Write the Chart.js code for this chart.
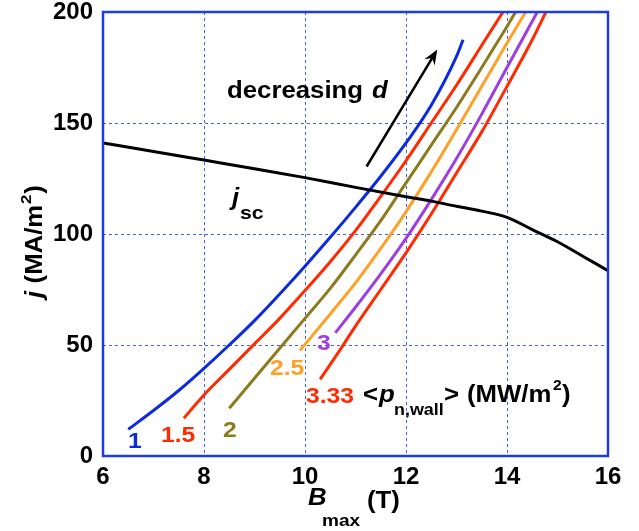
<!DOCTYPE html>
<html>
<head>
<meta charset="UTF-8">
<title>j vs Bmax</title>
<script src="https://cdn.jsdelivr.net/npm/chart.js@4.4.0/dist/chart.umd.min.js"></script>
<style>
  body { margin: 0; background: #fff; }
  #wrap { position: relative; width: 639px; height: 531px; }
</style>
</head>
<body>
<div id="wrap"><canvas id="c"></canvas></div>
<script>
// B_max (T) and j (MA/m2), one pair per wall load <p_n,wall>
var b1 = [6.5, 7, 7.5, 8, 8.5, 9, 9.5, 10, 10.5, 11, 11.5, 12, 12.5, 13, 13.13];
var j1 = [12, 20.5, 29.5, 39.5, 50, 61, 73, 85.5, 98.5, 112, 126, 141, 158, 180, 187.5];

var b15 = [7.6, 8, 8.5, 9, 9.5, 10, 10.5, 11, 11.5, 12, 12.5, 13, 13.5, 13.92];
var j15 = [17, 27.5, 39, 50.5, 62, 74.5, 87.5, 101.5, 117, 133, 150, 167, 185, 200];

var b2 = [8.5, 9, 9.5, 10, 10.5, 11, 11.5, 12, 12.5, 13, 13.5, 14, 14.17];
var j2 = [21.5, 35, 48.5, 62, 75.5, 90.5, 106, 123, 140, 157, 175, 193.5, 200];

var b25 = [9.9, 10.5, 11, 11.5, 12, 12.5, 13, 13.5, 14, 14.37];
var j25 = [47.5, 64, 78, 93.5, 110, 128, 147, 166.5, 186, 200];

var b3 = [10.6, 11, 11.5, 12, 12.5, 13, 13.5, 14, 14.6];
var j3 = [55.5, 67, 82, 98, 115.5, 134, 154, 175, 200];

var b333 = [10.3, 10.7, 11, 11.5, 12, 12.5, 13, 13.5, 14, 14.5, 14.77];
var j333 = [34.5, 48, 58.5, 75, 91.5, 109, 127.5, 146, 166.5, 187.5, 200];

// superconductor critical current density j_sc
var bSc = [6, 7, 8, 9, 10, 11, 12, 12.5, 13, 13.5, 14, 14.5, 15, 15.5, 16];
var jSc = [141, 137.2, 133.3, 129.4, 125.4, 121, 116.8, 114.8, 112.5, 110.3, 107.5, 102, 96.5, 90, 83.5];

// "decreasing d" arrow, tail -> head
var arrowB = [11.22, 12.62];
var arrowJ = [130.4, 183.1];

var FONT = "'Liberation Sans', Arial, Helvetica, sans-serif";
var SX = 1.12; // the figure's lettering is a little wide

function pts(bs, js) {
  return bs.map(function (b, i) { return { x: b, y: js[i] }; });
}

function put(ctx, s, x, y, font, color) {
  ctx.save();
  ctx.font = font;
  ctx.fillStyle = color || '#000';
  ctx.translate(x, y);
  ctx.scale(SX, 1);
  ctx.fillText(s, 0, 0);
  ctx.restore();
}

var decor = {
  id: 'decor',
  afterDraw: function (chart) {
    var ctx = chart.ctx, a = chart.chartArea;
    var xs = chart.scales.x, ys = chart.scales.y;

    // frame
    ctx.save();
    ctx.strokeStyle = '#1c3ce6';
    ctx.lineWidth = 2.5;
    ctx.strokeRect(a.left, a.top, a.right - a.left, a.bottom - a.top);

    // arrow
    var x0 = xs.getPixelForValue(arrowB[0]), y0 = ys.getPixelForValue(arrowJ[0]);
    var x1 = xs.getPixelForValue(arrowB[1]), y1 = ys.getPixelForValue(arrowJ[1]);
    var ang = Math.atan2(y1 - y0, x1 - x0);
    var c = Math.cos(ang), s = Math.sin(ang);
    ctx.strokeStyle = '#000';
    ctx.fillStyle = '#000';
    ctx.lineWidth = 2.5;
    ctx.beginPath();
    ctx.moveTo(x0, y0);
    ctx.lineTo(x1 - 8 * c, y1 - 8 * s);
    ctx.stroke();
    ctx.beginPath();
    ctx.moveTo(x1, y1);
    ctx.lineTo(x1 - 15 * c + 6 * s, y1 - 15 * s - 6 * c);
    ctx.lineTo(x1 - 10 * c, y1 - 10 * s);
    ctx.lineTo(x1 - 15 * c - 6 * s, y1 - 15 * s + 6 * c);
    ctx.closePath();
    ctx.fill();
    ctx.restore();

    ctx.textBaseline = 'alphabetic';
    ctx.textAlign = 'left';
    var B = 'bold 23px ' + FONT, BI = 'italic bold 23px ' + FONT;

    put(ctx, 'decreasing', 227, 98, B);
    put(ctx, 'd', 372, 98, BI);

    put(ctx, 'j', 232, 205, BI);
    put(ctx, 'sc', 240, 219, 'bold 19px ' + FONT);

    var L = 'bold 22px ' + FONT;
    put(ctx, '1', 128, 448, L, '#0a2be0');
    put(ctx, '1.5', 161, 442, L, '#ff2a00');
    put(ctx, '2', 223, 437, L, '#8c7b1c');
    put(ctx, '2.5', 270, 375, L, '#ffa028');
    put(ctx, '3', 317, 350, L, '#9d3fe0');
    put(ctx, '3.33', 306, 403, L, '#ff2a00');

    put(ctx, '<', 363, 402, B);
    put(ctx, 'p', 379, 402, BI);
    put(ctx, 'n,wall', 394, 415, 'bold 16px ' + FONT);
    put(ctx, '>', 444, 402, B);
    put(ctx, '(MW/m', 467, 402, B);
    put(ctx, '2', 553, 390, 'bold 14px ' + FONT);
    put(ctx, ')', 562, 402, B);

    // x title
    put(ctx, 'B', 308, 505, BI);
    put(ctx, 'max', 322, 526, 'bold 17px ' + FONT);
    put(ctx, '(T)', 367, 508, B);

    // y title
    ctx.save();
    ctx.translate(42, 298);
    ctx.rotate(-Math.PI / 2);
    ctx.scale(SX, 1);
    ctx.fillStyle = '#000';
    ctx.font = BI;
    ctx.fillText('j', 0, 0);
    ctx.font = B;
    ctx.fillText('(MA/m', 13, 0);
    ctx.font = 'bold 15px ' + FONT;
    ctx.fillText('2', 84, -11);
    ctx.font = B;
    ctx.fillText(')', 93, 0);
    ctx.restore();
  }
};

function curve(bs, js, color) {
  return {
    data: pts(bs, js),
    borderColor: color,
    borderWidth: 3,
    pointRadius: 0,
    cubicInterpolationMode: 'monotone',
    fill: false
  };
}

var tickFont = { family: FONT, weight: 'bold', size: 24 };

function noPad(s) {
  s.paddingTop = 0; s.paddingBottom = 0; s.paddingLeft = 0; s.paddingRight = 0;
}

new Chart(document.getElementById('c'), {
  type: 'line',
  data: {
    datasets: [
      curve(bSc, jSc, '#000000'),
      curve(b1, j1, '#0a2be0'),
      curve(b15, j15, '#ff2a00'),
      curve(b2, j2, '#8c7b1c'),
      curve(b25, j25, '#ffa028'),
      curve(b3, j3, '#9d3fe0'),
      curve(b333, j333, '#ff2a00')
    ]
  },
  options: {
    responsive: true,
    maintainAspectRatio: false,
    animation: false,
    layout: { padding: { top: 12, right: 31, left: 0, bottom: 0 } },
    plugins: { legend: { display: false }, tooltip: { enabled: false } },
    scales: {
      x: {
        type: 'linear', min: 6, max: 16,
        ticks: { stepSize: 2, color: '#000', font: tickFont, padding: 7 },
        grid: { color: '#4060f0', lineWidth: 1, drawTicks: false },
        border: { display: false, dash: [3, 3] },
        afterFit: function (s) { s.height = 75; noPad(s); }
      },
      y: {
        min: 0, max: 200,
        ticks: { stepSize: 50, color: '#000', font: tickFont, padding: 10 },
        grid: { color: '#4060f0', lineWidth: 1, drawTicks: false },
        border: { display: false, dash: [3, 3] },
        afterFit: function (s) { s.width = 103; noPad(s); }
      }
    }
  },
  plugins: [decor]
});
</script>
</body>
</html>
